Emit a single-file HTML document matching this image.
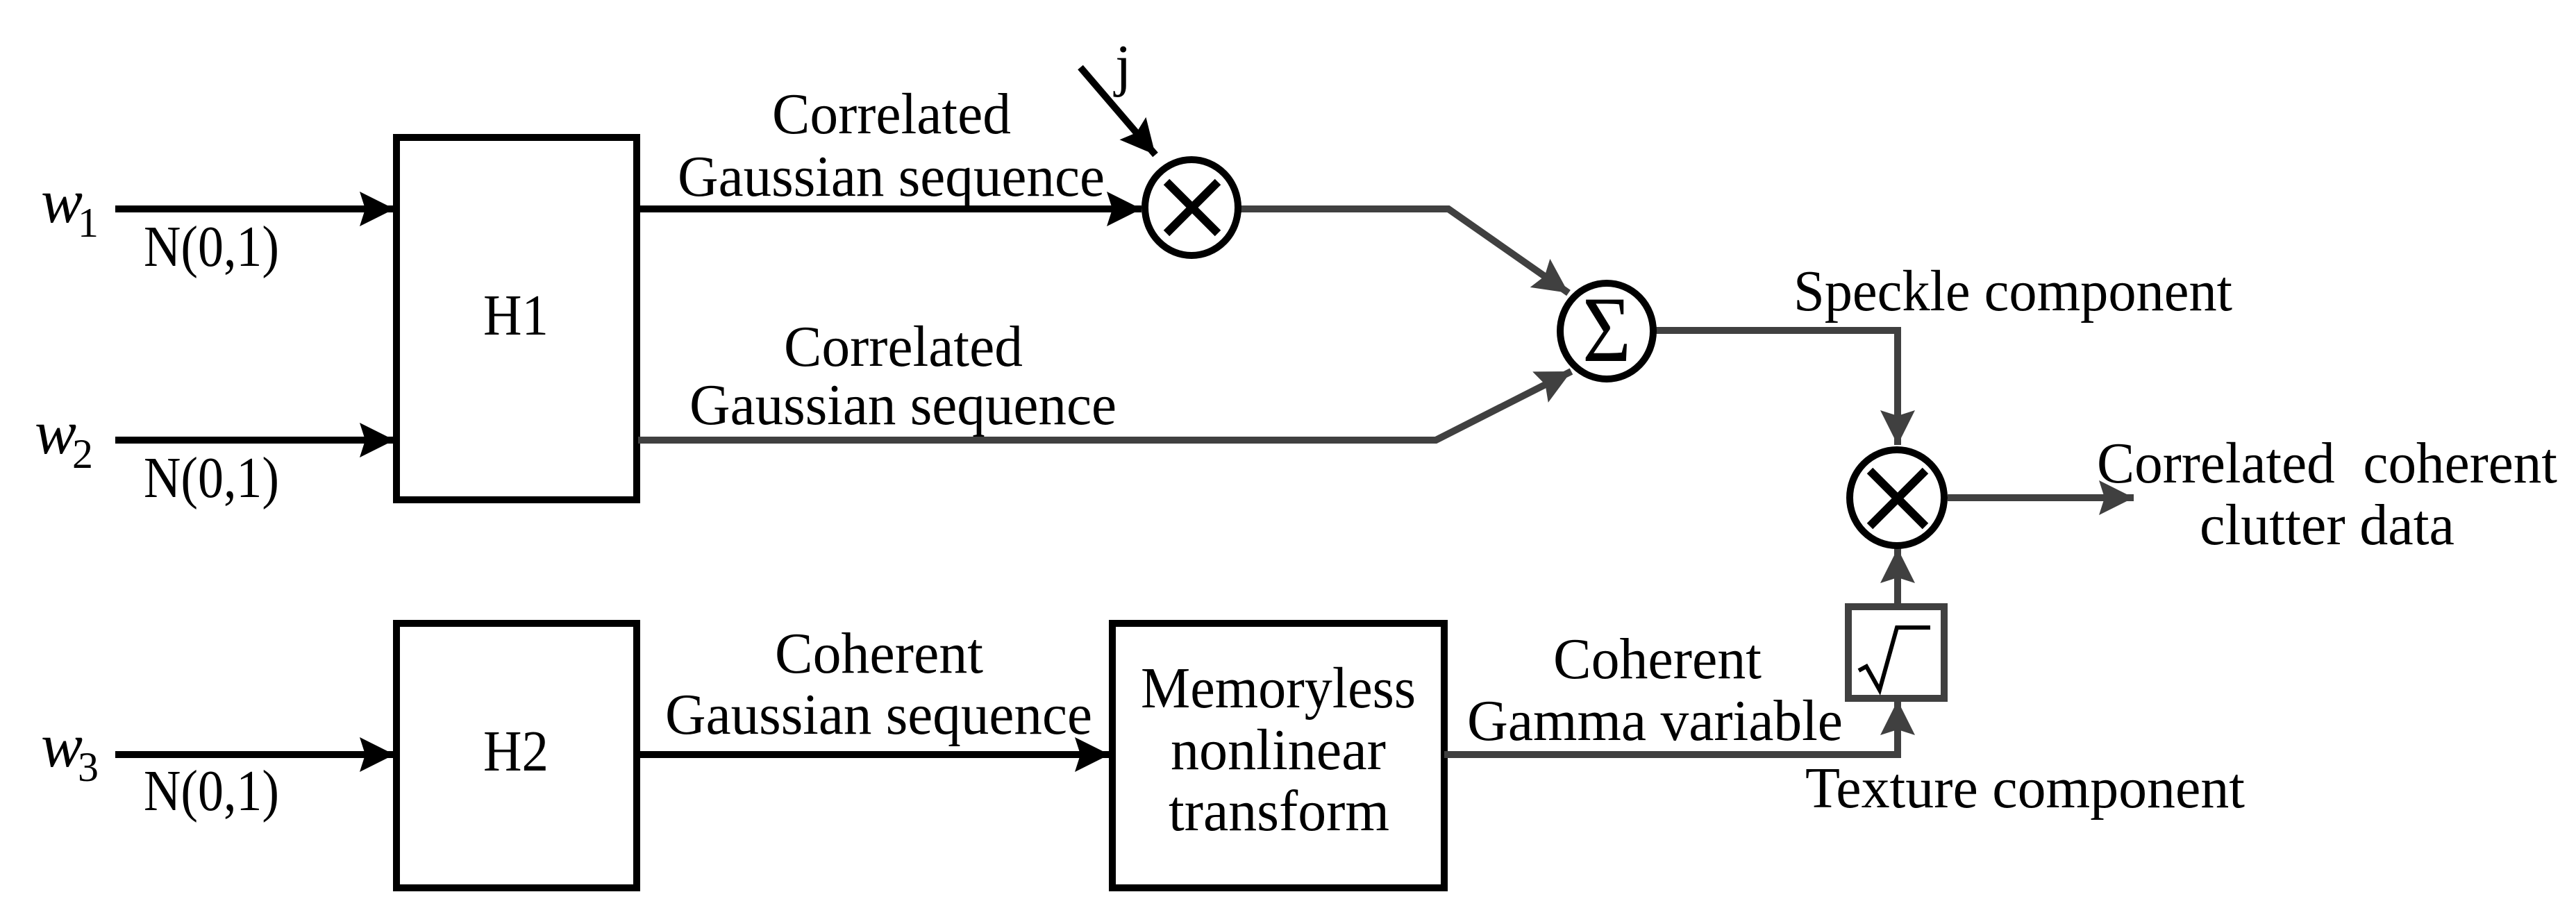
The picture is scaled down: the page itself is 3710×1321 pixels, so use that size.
<!DOCTYPE html>
<html><head><meta charset="utf-8"><style>
html,body{margin:0;padding:0;background:#fff;}
svg{display:block;}
text{font-family:"Liberation Serif","DejaVu Serif",serif;font-size:84px;fill:#000;}
</style></head><body>
<svg width="3710" height="1321" viewBox="0 0 3710 1321" xmlns="http://www.w3.org/2000/svg">
<defs>
<marker id="ab" markerUnits="userSpaceOnUse" markerWidth="60" markerHeight="60" refX="50" refY="25" orient="auto">
<path d="M0,0 L50,25 L0,50 L8,25 Z" fill="#000"/></marker>
<marker id="ag" markerUnits="userSpaceOnUse" markerWidth="60" markerHeight="60" refX="50" refY="25" orient="auto">
<path d="M0,0 L50,25 L0,50 L8,25 Z" fill="#404040"/></marker>
</defs>
<g fill="none" stroke-width="10">
<rect x="571" y="198" width="346" height="522" stroke="#000"/>
<rect x="571" y="898" width="346" height="381" stroke="#000"/>
<rect x="1602" y="898" width="478" height="381" stroke="#000"/>
<rect x="2662" y="874" width="138" height="132" stroke="#404040"/>
<line x1="166" y1="301" x2="568" y2="301" stroke="#000" marker-end="url(#ab)"/>
<line x1="166" y1="634" x2="568" y2="634" stroke="#000" marker-end="url(#ab)"/>
<line x1="166" y1="1087" x2="568" y2="1087" stroke="#000" marker-end="url(#ab)"/>
<line x1="919" y1="301" x2="1644" y2="301" stroke="#000" marker-end="url(#ab)"/>
<line x1="919" y1="1087" x2="1598" y2="1087" stroke="#000" marker-end="url(#ab)"/>
<line x1="1556" y1="97" x2="1664" y2="223" stroke="#000" marker-end="url(#ab)"/>
<polyline points="1786,301 2086,301 2259,422" stroke="#404040" marker-end="url(#ag)"/>
<polyline points="919,634 2068,634 2263,535" stroke="#404040" marker-end="url(#ag)"/>
<polyline points="2385,476 2733,476 2733,641" stroke="#404040" marker-end="url(#ag)"/>
<line x1="2805" y1="717" x2="3073" y2="717" stroke="#404040" marker-end="url(#ag)"/>
<line x1="2733" y1="874" x2="2733" y2="790" stroke="#404040" marker-end="url(#ag)"/>
<polyline points="2080,1087 2733,1087 2733,1009" stroke="#404040" marker-end="url(#ag)"/>
<ellipse cx="1716" cy="299" rx="67" ry="69" stroke="#000"/>
<line x1="1680" y1="262" x2="1754" y2="336" stroke="#000" stroke-width="12"/>
<line x1="1754" y1="262" x2="1680" y2="336" stroke="#000" stroke-width="12"/>
<ellipse cx="2314" cy="477" rx="67" ry="69" stroke="#000"/>
<ellipse cx="2732" cy="717" rx="68" ry="69" stroke="#000"/>
<line x1="2693" y1="678" x2="2773" y2="758" stroke="#000" stroke-width="12"/>
<line x1="2773" y1="678" x2="2693" y2="758" stroke="#000" stroke-width="12"/>
<polyline points="2677,966 2688,960 2707,994 2732,904 2780,904" stroke="#000" stroke-width="6"/>
</g>
<text x="2314" y="520" text-anchor="middle" style="font-size:135px" textLength="70" lengthAdjust="spacingAndGlyphs">Σ</text>
<text x="59" y="320" style="font-style:italic;font-size:90px">w</text><text x="112" y="341" style="font-size:60px">1</text>
<text x="50" y="653" style="font-style:italic;font-size:90px">w</text><text x="104" y="674" style="font-size:60px">2</text>
<text x="59" y="1104" style="font-style:italic;font-size:90px">w</text><text x="112" y="1125" style="font-size:60px">3</text>
<text x="207" y="383" textLength="195" lengthAdjust="spacingAndGlyphs">N(0,1)</text>
<text x="207" y="716" textLength="195" lengthAdjust="spacingAndGlyphs">N(0,1)</text>
<text x="207" y="1167" textLength="195" lengthAdjust="spacingAndGlyphs">N(0,1)</text>
<text x="696" y="482" textLength="94" lengthAdjust="spacingAndGlyphs">H1</text>
<text x="696" y="1110" textLength="94" lengthAdjust="spacingAndGlyphs">H2</text>
<text x="1606" y="122">j</text>
<text x="1112" y="192" textLength="344" lengthAdjust="spacingAndGlyphs">Correlated</text>
<text x="976" y="282" textLength="615" lengthAdjust="spacingAndGlyphs">Gaussian sequence</text>
<text x="1129" y="527" textLength="344" lengthAdjust="spacingAndGlyphs">Correlated</text>
<text x="993" y="611" textLength="615" lengthAdjust="spacingAndGlyphs">Gaussian sequence</text>
<text x="1116" y="969" textLength="300" lengthAdjust="spacingAndGlyphs">Coherent</text>
<text x="958" y="1057" textLength="615" lengthAdjust="spacingAndGlyphs">Gaussian sequence</text>
<text x="1643" y="1019" textLength="396" lengthAdjust="spacingAndGlyphs">Memoryless</text>
<text x="1686" y="1108" textLength="310" lengthAdjust="spacingAndGlyphs">nonlinear</text>
<text x="1683" y="1196" textLength="318" lengthAdjust="spacingAndGlyphs">transform</text>
<text x="2237" y="977" textLength="300" lengthAdjust="spacingAndGlyphs">Coherent</text>
<text x="2113" y="1066" textLength="541" lengthAdjust="spacingAndGlyphs">Gamma variable</text>
<text x="2583" y="447" textLength="632" lengthAdjust="spacingAndGlyphs">Speckle component</text>
<text x="2600" y="1163" textLength="633" lengthAdjust="spacingAndGlyphs">Texture component</text>
<text x="3020" y="695" textLength="663" lengthAdjust="spacingAndGlyphs" xml:space="preserve">Correlated  coherent</text>
<text x="3168" y="784" textLength="367" lengthAdjust="spacingAndGlyphs">clutter data</text>
</svg>
</body></html>
